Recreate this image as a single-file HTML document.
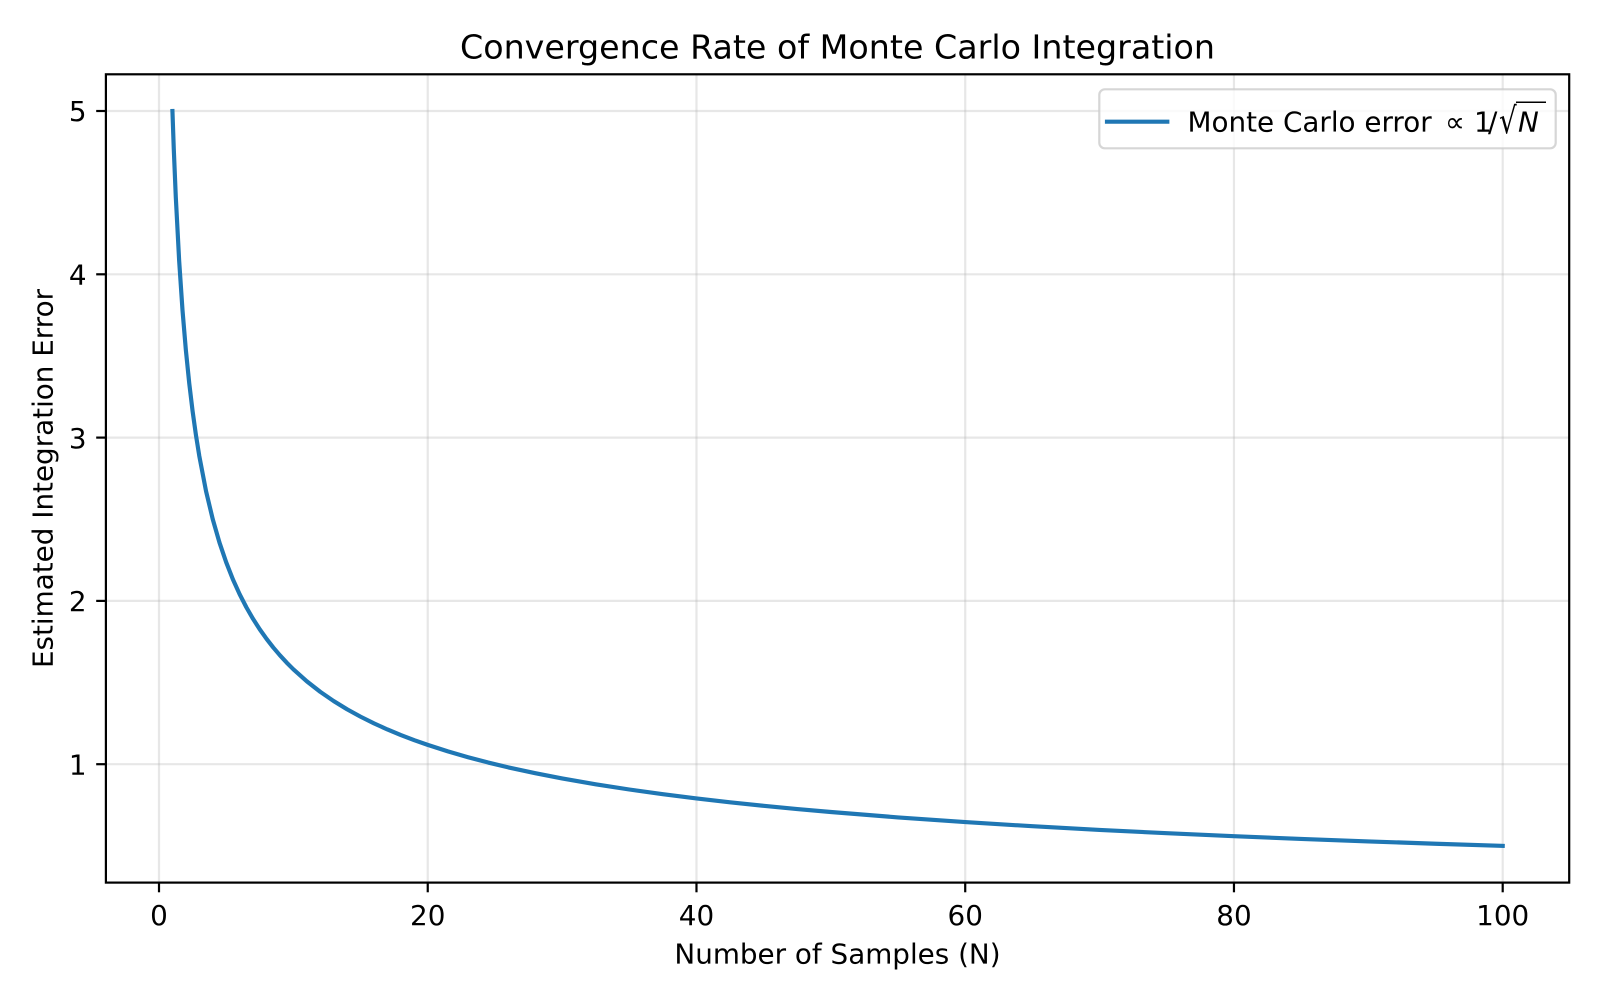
<!DOCTYPE html>
<html>
<head>
<meta charset="utf-8">
<style>
  html, body { margin: 0; padding: 0; background: #ffffff; }
  svg { display: block; }
  text { font-family: "DejaVu Sans", "Liberation Sans", sans-serif; fill: #000; }
</style>
</head>
<body>
<svg width="1600" height="1000" viewBox="0 0 1600 1000" xmlns="http://www.w3.org/2000/svg">
  <rect x="0" y="0" width="1600" height="1000" fill="#ffffff"/>

  <!-- grid -->
  <g stroke="#b0b0b0" stroke-opacity="0.3" stroke-width="2.2">
    <line x1="159" y1="74.3" x2="159" y2="882.6"/>
    <line x1="427.74" y1="74.3" x2="427.74" y2="882.6"/>
    <line x1="696.48" y1="74.3" x2="696.48" y2="882.6"/>
    <line x1="965.22" y1="74.3" x2="965.22" y2="882.6"/>
    <line x1="1233.96" y1="74.3" x2="1233.96" y2="882.6"/>
    <line x1="1502.7" y1="74.3" x2="1502.7" y2="882.6"/>
    <line x1="105.9" y1="764.2" x2="1569.2" y2="764.2"/>
    <line x1="105.9" y1="600.9" x2="1569.2" y2="600.9"/>
    <line x1="105.9" y1="437.6" x2="1569.2" y2="437.6"/>
    <line x1="105.9" y1="274.3" x2="1569.2" y2="274.3"/>
    <line x1="105.9" y1="111" x2="1569.2" y2="111"/>
  </g>

  <!-- curve -->
  <polyline fill="none" stroke="#1f77b4" stroke-width="4.17" stroke-linecap="square" stroke-linejoin="round"
    points="172.44,111 173.78,149.0 175.8,197.2 179.16,260.8 182.51,310.3 185.87,350.15 189.23,383.17 192.59,411.1 195.95,435.13 199.31,456.1 206.03,491.1 212.75,519.25 219.47,542.6 226.19,562.3 232.90,579.34 239.62,594.2 246.34,607.24 253.06,618.9 259.78,629.36 266.5,638.8 273.21,647.44 279.93,655.3 286.65,662.59 293.37,669.3 306.81,681.32 320.24,691.8 333.68,701.04 347.12,709.3 360.56,716.68 373.99,723.4 387.43,729.47 400.87,735.1 414.30,740.18 427.74,744.9 447.90,751.41 468.05,757.2 488.21,762.54 508.36,767.4 535.24,773.20 562.11,778.4 595.70,784.28 629.3,789.5 662.89,794.17 696.48,798.4 730.07,802.26 763.67,805.8 797.26,809.03 830.85,812.0 898.04,817.40 965.22,822.1 1032.41,826.23 1099.59,829.9 1166.78,833.22 1233.96,836.2 1301.15,838.94 1368.33,841.4 1435.52,843.73 1502.7,845.85"/>

  <!-- spines -->
  <rect x="105.9" y="74.3" width="1463.3" height="808.3" fill="none" stroke="#000" stroke-width="2.2"/>

  <!-- ticks -->
  <g stroke="#000" stroke-width="2.2">
    <line x1="159" y1="882.6" x2="159" y2="892.3"/>
    <line x1="427.74" y1="882.6" x2="427.74" y2="892.3"/>
    <line x1="696.48" y1="882.6" x2="696.48" y2="892.3"/>
    <line x1="965.22" y1="882.6" x2="965.22" y2="892.3"/>
    <line x1="1233.96" y1="882.6" x2="1233.96" y2="892.3"/>
    <line x1="1502.7" y1="882.6" x2="1502.7" y2="892.3"/>
    <line x1="96.2" y1="764.2" x2="105.9" y2="764.2"/>
    <line x1="96.2" y1="600.9" x2="105.9" y2="600.9"/>
    <line x1="96.2" y1="437.6" x2="105.9" y2="437.6"/>
    <line x1="96.2" y1="274.3" x2="105.9" y2="274.3"/>
    <line x1="96.2" y1="111" x2="105.9" y2="111"/>
  </g>

  <!-- x tick labels -->
  <g font-size="27.8" text-anchor="middle">
    <text x="159" y="925">0</text>
    <text x="427.74" y="925">20</text>
    <text x="696.48" y="925">40</text>
    <text x="965.22" y="925">60</text>
    <text x="1233.96" y="925">80</text>
    <text x="1502.7" y="925">100</text>
  </g>
  <!-- y tick labels -->
  <g font-size="27.8" text-anchor="end">
    <text x="86.6" y="774.4">1</text>
    <text x="86.6" y="611.1">2</text>
    <text x="86.6" y="447.8">3</text>
    <text x="86.6" y="284.5">4</text>
    <text x="86.6" y="121.2">5</text>
  </g>

  <!-- axis labels -->
  <text x="837.5" y="963.3" font-size="27.8" text-anchor="middle">Number of Samples (N)</text>
  <text x="0" y="0" font-size="27.8" text-anchor="middle" transform="translate(52.5,478.5) rotate(-90)">Estimated Integration Error</text>

  <!-- title -->
  <text x="837.5" y="58.3" font-size="33.3" text-anchor="middle">Convergence Rate of Monte Carlo Integration</text>

  <!-- legend -->
  <rect x="1099.3" y="89.3" width="456.4" height="59" rx="5.5" ry="5.5" fill="#ffffff" fill-opacity="0.8" stroke="#cccccc" stroke-opacity="0.8" stroke-width="2.2"/>
  <line x1="1107" y1="121.7" x2="1167.3" y2="121.7" stroke="#1f77b4" stroke-width="4.17" stroke-linecap="square"/>
  <text x="1187.5" y="131.7" font-size="27.8">Monte Carlo error</text>
  <text x="1445" y="131.7" font-size="27.8">∝</text>
  <text x="1474" y="131.7" font-size="27.8">1</text>
  <text x="1488" y="131.7" font-size="27.8">/</text>
  <text x="0" y="0" font-size="27.8" transform="translate(1499,133) scale(1,1.3)">√</text>
  <line x1="1516" y1="102.3" x2="1546" y2="102.3" stroke="#000" stroke-width="1.5"/>
  <text x="1518" y="131.7" font-size="27.8" font-style="italic">N</text>
</svg>
</body>
</html>
